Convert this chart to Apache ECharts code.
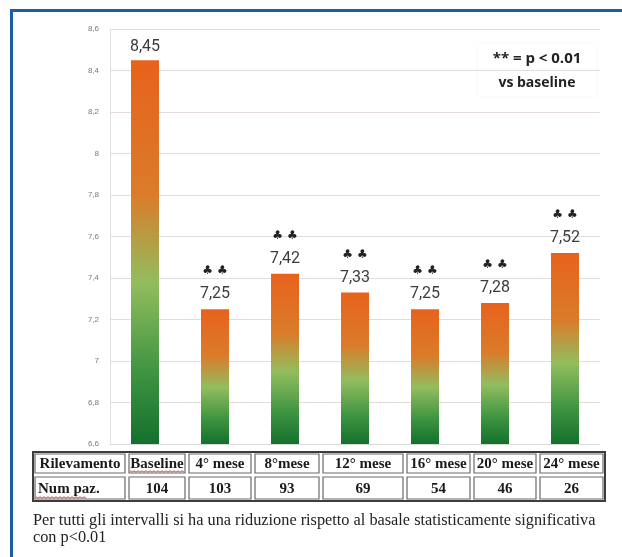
<!DOCTYPE html>
<html>
<head>
<meta charset="utf-8">
<script src="https://cdn.jsdelivr.net/npm/echarts@6/dist/echarts.min.js"></script>
<style>
  html, body { margin: 0; padding: 0; background: #fff; }
  #chart { width: 622px; height: 557px; }
</style>
</head>
<body>
<div id="chart"></div>
<script>
// Follow-up time points and mean value at each visit
const categories = ['Baseline', '4° mese', '8°mese', '12° mese', '16° mese', '20° mese', '24° mese'];
const values = [8.45, 7.25, 7.42, 7.33, 7.25, 7.28, 7.52];
const significant = [false, true, true, true, true, true, true];

// Patients available at each visit
const rowHeader = 'Rilevamento';
const rowLabel = 'Num paz.';
const patients = [104, 103, 93, 69, 54, 46, 26];

const legendLines = ['** = p < 0.01', 'vs baseline'];
const footnote = [
  'Per tutti gli intervalli si ha una riduzione rispetto al basale statisticamente significativa',
  'con p<0.01'
];

// Table layout (pixels)
const colEdges = [33, 127, 187, 253, 321, 405, 472, 538, 605];
const rowEdges = [452, 475, 501];

const chart = echarts.init(document.getElementById('chart'), null, { renderer: 'canvas' });

const barGradient = new echarts.graphic.LinearGradient(0, 0, 0, 1, [
  { offset: 0, color: '#E8621C' },
  { offset: 0.35, color: '#DA7C2A' },
  { offset: 0.58, color: '#92BD5E' },
  { offset: 0.82, color: '#3C9340' },
  { offset: 1, color: '#15702D' }
]);

const serif = "'Liberation Serif', 'DejaVu Serif', serif";
const g = [];

// Blue frame (top and left edges)
g.push({ type: 'rect', shape: { x: 10, y: 9, width: 612, height: 3 }, style: { fill: '#1B5EA6' }, silent: true });
g.push({ type: 'rect', shape: { x: 10, y: 9, width: 3, height: 548 }, style: { fill: '#1B5EA6' }, silent: true });

// Significance legend
g.push({ type: 'rect', shape: { x: 478, y: 44, width: 118, height: 52 }, style: { fill: '#ffffff', shadowBlur: 4, shadowColor: 'rgba(0,0,0,0.04)' }, silent: true });
legendLines.forEach((t, i) => {
  g.push({
    type: 'text', silent: true,
    style: { text: t, x: 537, y: 59 + i * 24, align: 'center', verticalAlign: 'middle',
      font: (i === 0 ? 'bold 15px' : 'bold 14px') + " 'Open Sans', 'Liberation Sans', sans-serif", fill: '#222' }
  });
});

// Patient table
const tLeft = colEdges[0], tRight = colEdges[colEdges.length - 1];
const tTop = rowEdges[0], tBottom = rowEdges[rowEdges.length - 1];
g.push({ type: 'rect', shape: { x: tLeft, y: tTop, width: tRight - tLeft, height: tBottom - tTop },
  style: { fill: '#fff', stroke: '#3d3d3d', lineWidth: 2 }, silent: true });
for (let r = 0; r < rowEdges.length - 1; r++) {
  for (let c = 0; c < colEdges.length - 1; c++) {
    g.push({ type: 'rect', silent: true,
      shape: { x: colEdges[c] + 2, y: rowEdges[r] + 2, width: colEdges[c + 1] - colEdges[c] - 4, height: rowEdges[r + 1] - rowEdges[r] - 4 },
      style: { fill: 'none', stroke: '#6a6a6a', lineWidth: 1.2 } });
  }
}
const headerCells = [rowHeader].concat(categories);
const dataCells = [rowLabel].concat(patients.map(String));
headerCells.forEach((t, c) => {
  g.push({ type: 'text', silent: true,
    style: { text: t, x: (colEdges[c] + colEdges[c + 1]) / 2, y: (rowEdges[0] + rowEdges[1]) / 2 + 1,
      align: 'center', verticalAlign: 'middle', font: 'bold 15px ' + serif, fill: '#1a1a1a' } });
});
dataCells.forEach((t, c) => {
  const isLabel = c === 0;
  g.push({ type: 'text', silent: true,
    style: { text: t, x: isLabel ? colEdges[0] + 5 : (colEdges[c] + colEdges[c + 1]) / 2,
      y: (rowEdges[1] + rowEdges[2]) / 2 + 1,
      align: isLabel ? 'left' : 'center', verticalAlign: 'middle', font: 'bold 15px ' + serif, fill: '#1a1a1a' } });
});

// Spell-check style wavy underlines
function wavy(x0, x1, y) {
  const pts = [];
  for (let x = x0, k = 0; x <= x1; x += 2, k++) pts.push([x, y + (k % 2 ? 1.2 : -0.2)]);
  return { type: 'polyline', silent: true, shape: { points: pts }, style: { stroke: '#d84040', lineWidth: 1, fill: 'none' } };
}
g.push(wavy(130, 185, 471));
g.push(wavy(36, 86, 497));

// Footnote
footnote.forEach((t, i) => {
  g.push({ type: 'text', silent: true,
    style: { text: t, x: 33, y: 521 + i * 17, align: 'left', verticalAlign: 'middle',
      font: '16.3px ' + serif, fill: '#222' } });
});

const fmt = v => v.toFixed(2).replace('.', ',');

chart.setOption({
  backgroundColor: '#ffffff',
  animation: false,
  grid: { left: 110, right: 22, top: 29, bottom: 113, containLabel: false },
  xAxis: {
    type: 'category',
    data: categories,
    axisLine: { show: true, lineStyle: { color: '#d9d9d9' } },
    axisTick: { show: false },
    axisLabel: { show: false }
  },
  yAxis: {
    type: 'value',
    min: 6.6,
    max: 8.6,
    interval: 0.2,
    axisLine: { show: true, lineStyle: { color: '#e2e2e2' } },
    axisTick: { show: false },
    axisLabel: {
      fontSize: 8, color: '#7a7a7a', margin: 11,
      fontFamily: "'Liberation Sans', sans-serif",
      formatter: v => String(+v.toFixed(1)).replace('.', ',')
    },
    splitLine: { lineStyle: { color: '#e3dcd8', width: 1.2 } }
  },
  series: [{
    type: 'bar',
    barWidth: 28,
    data: values.map((v, i) => ({
      value: v,
      label: significant[i]
        ? { formatter: p => '{s|♣ ♣}\n{v|' + fmt(p.value) + '}', distance: 3 }
        : { formatter: p => '{v|' + fmt(p.value) + '}', distance: 1 }
    })),
    itemStyle: { color: barGradient },
    label: {
      show: true,
      position: 'top',
      rich: {
        s: { fontSize: 12, lineHeight: 22, color: '#222', fontFamily: 'DejaVu Sans' },
        v: { fontSize: 16, lineHeight: 24, color: '#3c3c3c', fontFamily: "Roboto, 'Liberation Sans', sans-serif" }
      }
    }
  }],
  graphic: g
});
</script>
</body>
</html>
